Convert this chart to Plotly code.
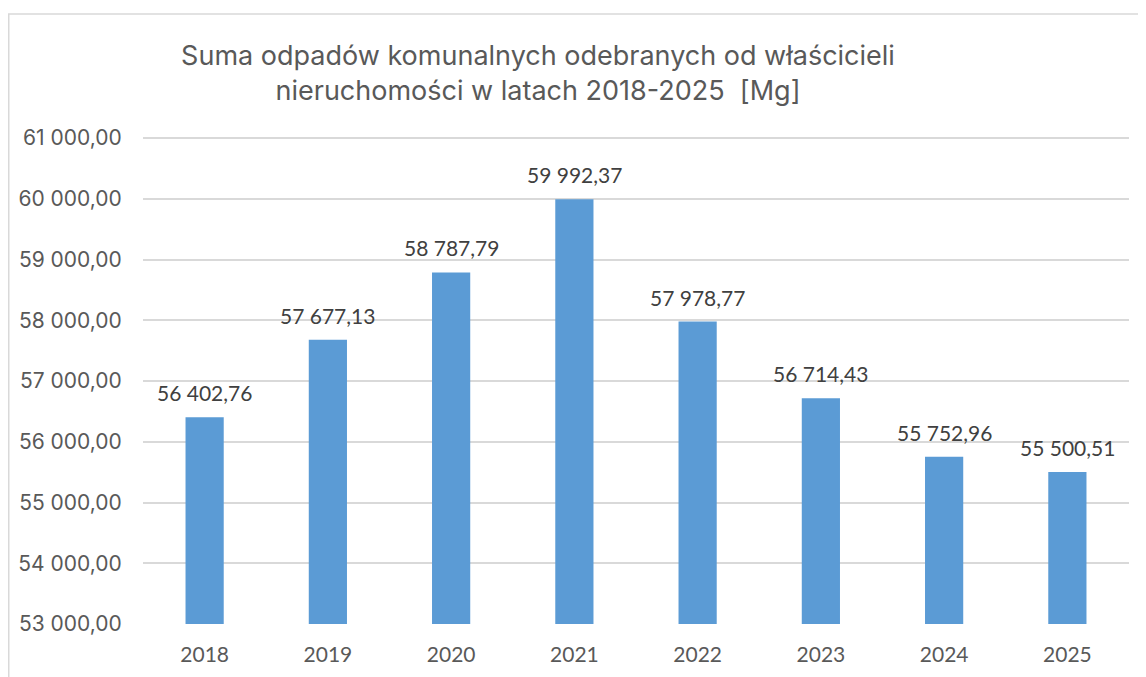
import plotly.graph_objects as go

years = ["2018", "2019", "2020", "2021", "2022", "2023", "2024", "2025"]
values = [56402.76, 57677.13, 58787.79, 59992.37, 57978.77, 56714.43, 55752.96, 55500.51]
y_ticks = [53000, 54000, 55000, 56000, 57000, 58000, 59000, 60000, 61000]
title_lines = ["Suma odpadów komunalnych odebranych od właścicieli",
               "nieruchomości w latach 2018-2025  [Mg]"]


def fmt(v):
    s = f"{v:,.2f}"
    return s.replace(",", " ").replace(".", ",")


OFF = 8  # page body margin
W, H = 1146 - OFF, 677 - OFF
L, T = 143 - OFF, 136 - OFF
R = W - (1129 - OFF)
B = H - (624 - OFF)
pw, ph = W - L - R, H - T - B
y_top = 53000 + 8000 * ph / (ph - 2)  # keep 61 000 gridline 2px inside the plot

fig = go.Figure()
fig.add_trace(go.Bar(
    x=years, y=values, marker=dict(color="#5b9bd5", line=dict(width=0)),
    text=[fmt(v) for v in values], textposition="none", hoverinfo="x+y",
))

for i, v in enumerate(values):
    fig.add_annotation(x=i, y=v, xref="x", yref="y", text=fmt(v), showarrow=False,
                       yanchor="bottom", yshift=10,
                       font=dict(family="Lato, Open Sans", size=21, color="#404040"))

# outer chart border (right and bottom edges fall outside the picture)
fig.add_shape(type="rect", xref="paper", yref="paper",
              x0=(0.75 - L) / pw, x1=(W + 200 - L) / pw,
              y0=-(B + 200) / ph, y1=(H - B - (14 - OFF)) / ph,
              line=dict(color="#d9d9d9", width=1.5), fillcolor="rgba(0,0,0,0)", layer="below")

fig.update_layout(
    width=W, height=H,
    margin=dict(l=L, r=R, t=T, b=B, autoexpand=False),
    paper_bgcolor="white", plot_bgcolor="white",
    showlegend=False,
    title=dict(text="<br>".join(title_lines), x=(538 - OFF) / W, xanchor="center",
               y=1 - 57 / H, yanchor="top",
               font=dict(family="Inter, Open Sans", size=27, color="#595959")),
    bargap=0.69,
)
fig.update_xaxes(type="category", categoryorder="array", categoryarray=years,
                 range=[-0.5, len(years) - 0.5],
                 showline=False, showgrid=False,
                 ticks="outside", ticklen=12, tickcolor="rgba(0,0,0,0)",
                 tickfont=dict(family="Lato, Open Sans", size=21, color="#595959"))
fig.update_yaxes(range=[53000, y_top], tickvals=y_ticks, ticktext=[fmt(t) for t in y_ticks],
                 showgrid=True, gridcolor="#d9d9d9", gridwidth=1.5, zeroline=False,
                 showline=False, ticks="outside", ticklen=16, tickcolor="rgba(0,0,0,0)",
                 tickfont=dict(family="Inter, Open Sans", size=21, color="#595959"))

fig.write_html("out.html")
